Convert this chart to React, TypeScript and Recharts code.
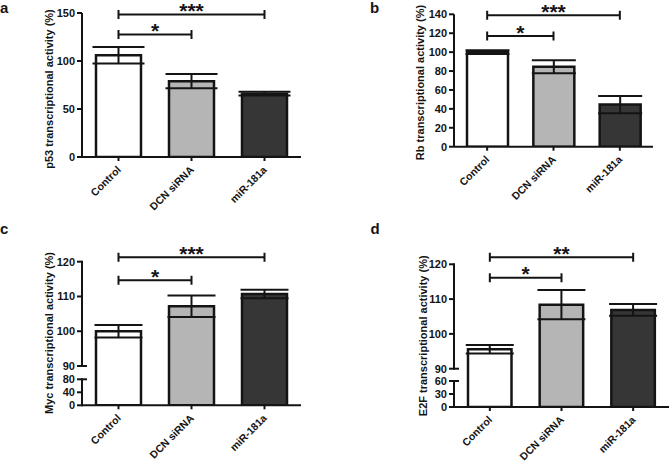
import React from 'react';
import { BarChart, Bar, XAxis, YAxis, Cell, ErrorBar, ReferenceLine } from 'recharts';

// ---------- data ----------
const categories = ['Control', 'DCN siRNA', 'miR-181a'];

const p53Values = [106, 79, 66];
const p53Errors = [8.5, 7.5, 2];
const rbValues = [100, 84.5, 44.5];
const rbErrors = [2, 6.8, 9.2];
const mycValues = [100, 107.2, 110.7];
const mycErrors = [1.8, 3.1, 1.2];
const e2fValues = [95.6, 108.4, 106.9];
const e2fErrors = [1.2, 4.2, 1.7];

const p53Ticks = [0, 50, 100, 150];
const rbTicks = [0, 20, 40, 60, 80, 100, 120, 140];
const mycTicks = [0, 40, 80, 90, 100, 110, 120];
const e2fTicks = [0, 30, 60, 90, 100, 110, 120];

// axis breaks: [bottom, lower segment top, upper segment bottom, top]
const mycBreak = [0, 80, 90, 120];
const e2fBreak = [0, 60, 90, 120];

const p53Brackets = [
  { from: 'Control', to: 'DCN siRNA', y: 127.5, label: '*' },
  { from: 'Control', to: 'miR-181a', y: 148.5, label: '***' },
];
const rbBrackets = [
  { from: 'Control', to: 'DCN siRNA', y: 117, label: '*' },
  { from: 'Control', to: 'miR-181a', y: 139, label: '***' },
];
const mycBrackets = [
  { from: 'Control', to: 'DCN siRNA', y: 114.7, label: '*' },
  { from: 'Control', to: 'miR-181a', y: 121.3, label: '***' },
];
const e2fBrackets = [
  { from: 'Control', to: 'DCN siRNA', y: 116.1, label: '*' },
  { from: 'Control', to: 'miR-181a', y: 122, label: '**' },
];

// ---------- styles ----------
const FONT = '"Liberation Sans", Arial, sans-serif';
const INK = '#141414';
const FILLS = ['#ffffff', '#b5b5b5', '#363636'];
const TICK_SIZE = 5;
const TICK_MARGIN = 2;

// piecewise-linear scale for a broken axis (d3-like interface)
function brokenScale(stops: number[], fracs: number[]) {
  let dom = [stops[0], stops[stops.length - 1]];
  let rng = [0, 1];
  const s: any = (v: number) => {
    let i = 0;
    while (i < stops.length - 2 && v > stops[i + 1]) i++;
    const t = (v - stops[i]) / (stops[i + 1] - stops[i]);
    const fr = fracs[i] + t * (fracs[i + 1] - fracs[i]);
    return rng[0] + fr * (rng[1] - rng[0]);
  };
  s.domain = function (d?: number[]) {
    if (d === undefined) return dom.slice();
    dom = Array.from(d);
    return s;
  };
  s.range = function (r?: number[]) {
    if (r === undefined) return rng.slice();
    rng = Array.from(r);
    return s;
  };
  s.copy = () => brokenScale(stops, fracs).domain(dom).range(rng);
  s.ticks = () => stops.slice();
  s.tickFormat = () => (v: number) => String(v);
  s.nice = () => s;
  s.clamp = () => s;
  s.invert = (p: number) => {
    const fr = (p - rng[0]) / (rng[1] - rng[0]);
    let i = 0;
    while (i < fracs.length - 2 && fr > fracs[i + 1]) i++;
    const t = (fr - fracs[i]) / (fracs[i + 1] - fracs[i]);
    return stops[i] + t * (stops[i + 1] - stops[i]);
  };
  return s;
}

const CatTick = (props: any) => {
  const { x, y, payload } = props;
  const tx = x + 3;
  const ty = y + 7.5;
  return (
    <text
      x={tx}
      y={ty}
      transform={`rotate(-45 ${tx} ${ty})`}
      textAnchor="end"
      fontSize={10.5}
      fontWeight="bold"
      fontFamily={FONT}
      fill={INK}
    >
      {payload.value}
    </text>
  );
};

// y tick for a broken axis: label, tick mark, and the axis segments
const makeBrokenTick = (stops: number[], fracs: number[], plotH: number) => (props: any) => {
  const { x, y, payload } = props;
  const v = payload.value;
  const ax = x + TICK_SIZE + TICK_MARGIN;
  const unit = brokenScale(stops, fracs);
  const bottom = y + unit(v) * plotH;
  const s = brokenScale(stops, fracs).range([bottom, bottom - plotH]);
  const isBreak = v === stops[1] || v === stops[2];
  return (
    <g>
      <text
        x={x}
        y={y}
        dy="0.355em"
        textAnchor="end"
        fontSize={11}
        fontWeight="bold"
        fontFamily={FONT}
        fill={INK}
      >
        {v}
      </text>
      <line x1={ax - TICK_SIZE} x2={isBreak ? ax + 5 : ax} y1={y} y2={y} stroke={INK} strokeWidth={2} />
      {v === stops[0] && <line x1={ax} x2={ax} y1={s(stops[0]) + 1} y2={s(stops[1]) - 1} stroke={INK} strokeWidth={2} />}
      {v === stops[2] && <line x1={ax} x2={ax} y1={s(stops[2]) + 1} y2={s(stops[3]) - 1} stroke={INK} strokeWidth={2} />}
    </g>
  );
};

const makeBracket = (label: string) => (p: any) => {
  const { x1, y1, x2 } = p;
  const h = 4.5;
  return (
    <g>
      <path
        d={`M${x1},${y1 - h}V${y1 + h}M${x1},${y1}H${x2}M${x2},${y1 - h}V${y1 + h}`}
        stroke={INK}
        strokeWidth={2}
        fill="none"
      />
      <text
        x={(x1 + x2) / 2}
        y={y1 + 3.5}
        textAnchor="middle"
        fontSize={21}
        fontWeight="bold"
        fontFamily={FONT}
        fill={INK}
      >
        {label}
      </text>
    </g>
  );
};

type Bracket = { from: string; to: string; y: number; label: string };
type PanelCfg = {
  left: number;
  top: number;
  width: number;
  height: number;
  margin: { top: number; right: number; bottom: number; left: number };
  yWidth: number;
  xHeight: number;
  values: number[];
  errors: number[];
  ticks: number[];
  domain: [number, number];
  brackets: Bracket[];
  barSize: number;
  capWidth: number;
  breakStops?: number[];
  breakFracs?: number[];
};

const Panel = ({ cfg }: { cfg: PanelCfg }) => {
  const rows = categories.map((name, i) => ({ name, value: cfg.values[i], err: cfg.errors[i] }));
  const plotH = cfg.height - cfg.margin.top - cfg.margin.bottom - cfg.xHeight;
  const broken = !!cfg.breakStops;
  const stops = cfg.breakStops as number[];
  const fracs = cfg.breakFracs as number[];
  const scale = broken ? brokenScale(stops, fracs) : 'linear';
  return (
    <div style={{ position: 'absolute', left: cfg.left, top: cfg.top }}>
      <BarChart width={cfg.width} height={cfg.height} data={rows} margin={cfg.margin}>
        <XAxis
          dataKey="name"
          interval={0}
          height={cfg.xHeight}
          tickSize={4}
          tick={<CatTick />}
          axisLine={{ stroke: INK, strokeWidth: 2 }}
          tickLine={{ stroke: INK, strokeWidth: 2 }}
        />
        <YAxis
          type="number"
          width={cfg.yWidth}
          domain={cfg.domain}
          ticks={cfg.ticks}
          interval={0}
          scale={scale as any}
          allowDataOverflow
          tickSize={TICK_SIZE}
          tickMargin={TICK_MARGIN}
          axisLine={broken ? false : { stroke: INK, strokeWidth: 2 }}
          tickLine={broken ? false : { stroke: INK, strokeWidth: 2 }}
          tick={
            broken
              ? makeBrokenTick(stops, fracs, plotH)
              : { fontSize: 11, fontWeight: 'bold', fill: INK, fontFamily: FONT }
          }
        />
        <Bar dataKey="value" barSize={cfg.barSize} stroke={INK} strokeWidth={2.5} isAnimationActive={false}>
          {rows.map((r, i) => (
            <Cell key={r.name} fill={FILLS[i]} />
          ))}
          <ErrorBar dataKey="err" width={cfg.capWidth} stroke={INK} strokeWidth={2} isAnimationActive={false} />
        </Bar>
        {cfg.brackets.map((b) => (
          <ReferenceLine
            key={b.label + b.to}
            ifOverflow="visible"
            segment={[{ x: b.from, y: b.y }, { x: b.to, y: b.y }]}
            shape={makeBracket(b.label)}
          />
        ))}
      </BarChart>
    </div>
  );
};

const panels: PanelCfg[] = [
  {
    left: 0, top: 0, width: 330, height: 220,
    margin: { top: 13, right: 29, bottom: 13, left: 0 },
    yWidth: 82, xHeight: 50,
    values: p53Values, errors: p53Errors, ticks: p53Ticks, domain: [0, 150],
    brackets: p53Brackets, barSize: 45, capWidth: 26,
  },
  {
    left: 330, top: 0, width: 339, height: 220,
    margin: { top: 14.3, right: 16, bottom: 23.3, left: 0 },
    yWidth: 124, xHeight: 50,
    values: rbValues, errors: rbErrors, ticks: rbTicks, domain: [0, 140],
    brackets: rbBrackets, barSize: 41, capWidth: 22,
  },
  {
    left: 0, top: 220, width: 330, height: 242,
    margin: { top: 41.7, right: 29, bottom: 6.7, left: 0 },
    yWidth: 82, xHeight: 50,
    values: mycValues, errors: mycErrors, ticks: mycTicks, domain: [0, 120],
    brackets: mycBrackets, barSize: 45, capWidth: 24,
    breakStops: mycBreak, breakFracs: [0, 0.1811, 0.2737, 1],
  },
  {
    left: 330, top: 220, width: 339, height: 242,
    margin: { top: 44.3, right: 0, bottom: 5, left: 0 },
    yWidth: 124, xHeight: 50,
    values: e2fValues, errors: e2fErrors, ticks: e2fTicks, domain: [0, 120],
    brackets: e2fBrackets, barSize: 43.5, capWidth: 24,
    breakStops: e2fBreak, breakFracs: [0, 0.1822, 0.2684, 1],
  },
];

const titles = [
  { text: 'p53 transcriptional activity (%)', x: 53, y: 89 },
  { text: 'Rb transcriptional activity (%)', x: 424.4, y: 82.5 },
  { text: 'Myc transcriptional activity (%)', x: 52.7, y: 333 },
  { text: 'E2F transcriptional activity (%)', x: 426.7, y: 335.8 },
];
const letters = [
  { text: 'a', x: 0, y: 13 },
  { text: 'b', x: 370, y: 12.5 },
  { text: 'c', x: 0, y: 234 },
  { text: 'd', x: 370.5, y: 234 },
];

export default function App() {
  return (
    <div style={{ position: 'absolute', left: 0, top: 0, width: 669, height: 462, background: '#fff', overflow: 'hidden' }}>
      {panels.map((p, i) => (
        <Panel key={i} cfg={p} />
      ))}
      <svg width={669} height={462} style={{ position: 'absolute', left: 0, top: 0, pointerEvents: 'none' }}>
        {titles.map((t) => (
          <text
            key={t.text}
            transform={`translate(${t.x},${t.y}) rotate(-90)`}
            textAnchor="middle"
            fontSize={11}
            fontWeight="bold"
            fontFamily={FONT}
            fill={INK}
          >
            {t.text}
          </text>
        ))}
        {letters.map((l) => (
          <text key={l.text} x={l.x} y={l.y} fontSize={15} fontWeight="bold" fontFamily={FONT} fill={INK}>
            {l.text}
          </text>
        ))}
      </svg>
    </div>
  );
}
